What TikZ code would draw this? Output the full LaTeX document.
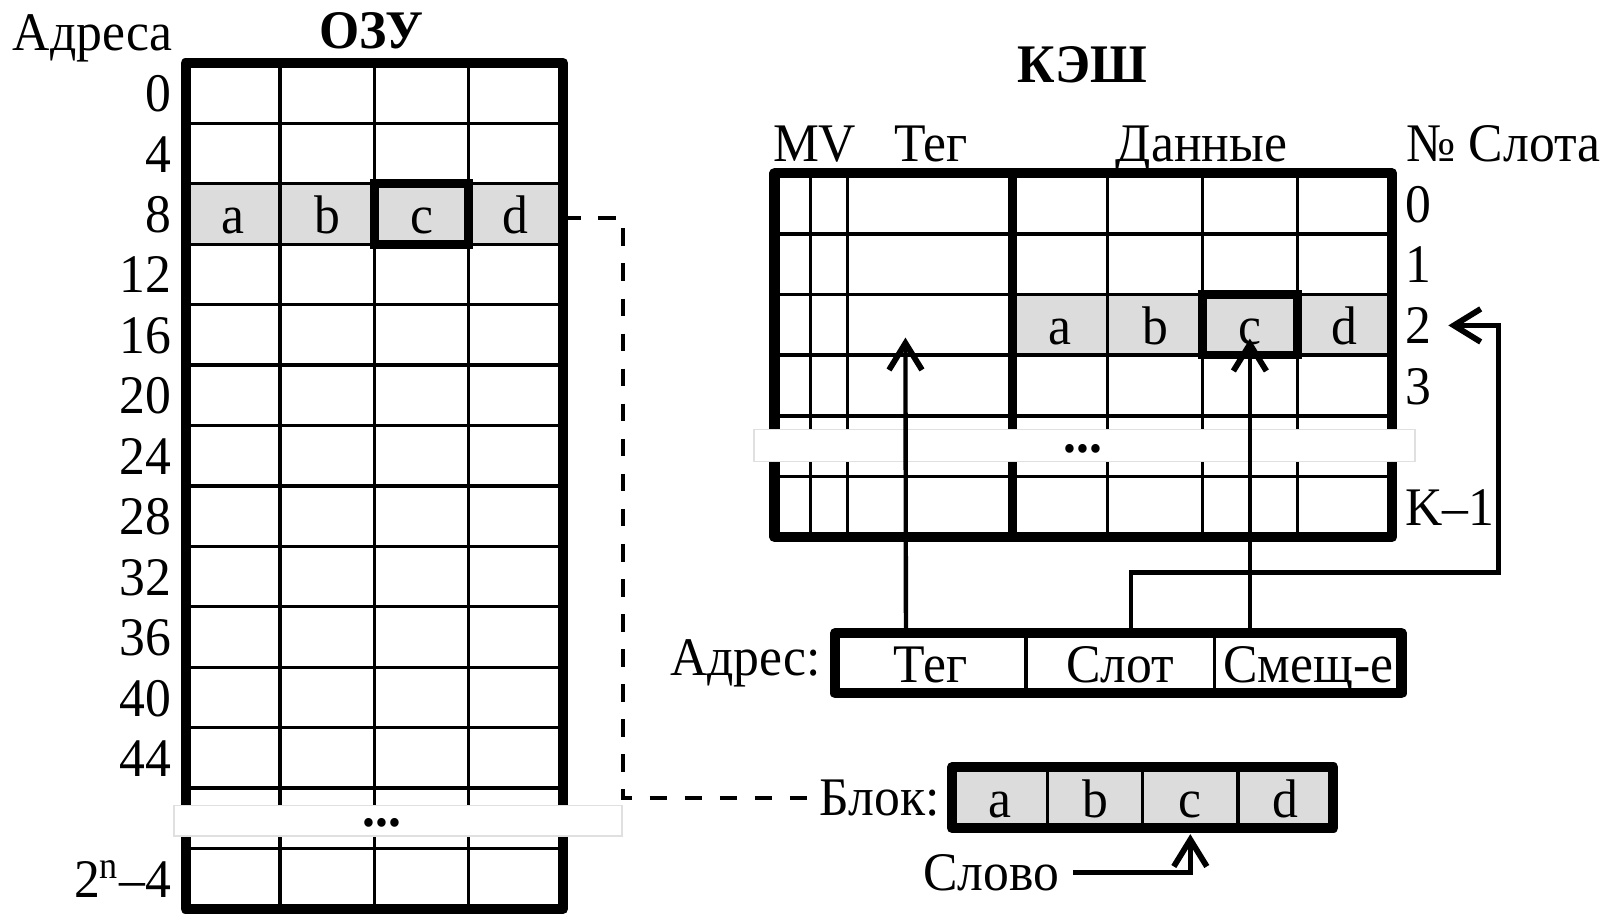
\documentclass[tikz,border=0pt]{standalone}
\usepackage{fontspec}
\setmainfont{Liberation Serif}[FakeStretch=0.95]
\usetikzlibrary{arrows.meta,positioning}
\definecolor{blockgray}{HTML}{DCDCDC}

\begin{document}
\begin{tikzpicture}[x=0.1mm, y=-0.1mm,
  txt/.style={font=\fontsize{15}{17}\selectfont, inner sep=0pt},
  ttl/.style={font=\fontsize{15}{17}\selectfont\bfseries, inner sep=0pt},
  cellbox/.style={draw, line width=0.9pt, minimum width=9.15mm, minimum height=5.87mm,
    inner sep=0pt, outer sep=0pt, text height=3.8mm, text depth=0pt,
    font=\fontsize{15}{17}\selectfont},
  hot/.style={cellbox, fill=blockgray},
  border/.style={line width=2.8pt, line join=round},
  arr/.style={-{Straight Barb[length=2.6mm,width=3.2mm,line width=1.6pt]}, line width=1.2pt},
  dashline/.style={line width=1.2pt, dash pattern=on 1.7mm off 1.7mm},
  gapband/.style={fill=white, draw=black!12, line width=0.5pt, inner sep=0pt},
]
  \useasboundingbox (0,0) rectangle (1568,887);

  % ОЗУ
  \node[txt] (addrhead) at (90,37) {Адреса};
  \node[ttl] (ramhead) at (360,30) {ОЗУ};
  \foreach \r in {0,1,3,4,...,13}
    \foreach \c in {1,...,4}
      \node[cellbox] (ram-\r-\c) at ({180+91.5*(\c-0.5)},{61+58.6*(\r+0.5)}) {};
  \foreach \c/\w in {1/a,2/b,3/c,4/d}
    \node[hot] (ram-2-\c) at ({180+91.5*(\c-0.5)},{61+58.6*2.5}) {\w};
  \draw[line width=2.4pt] (ram-2-3.north west) rectangle (ram-2-3.south east);
  \draw[border] (ram-0-1.north west) rectangle (ram-13-4.south east);
  \foreach \r [evaluate=\r as \a using int(4*\r)] in {0,...,11}
    \node[txt, anchor=base east] (ramaddr-\r) at ([xshift=-1.3mm, yshift=-1.8mm]ram-\r-1.west) {\a};
  \node[txt, anchor=base east] (ramaddr-13) at ([xshift=-1.3mm, yshift=-1.8mm]ram-13-1.west) {2\textsuperscript{n}--4};

  % КЭШ
  \node[ttl] (cachehead) at (1050,63) {КЭШ};
  \foreach \r in {0,...,5} {
    \node[cellbox, minimum width=3.5mm] (mv-\r-1) at (768.5,{168+58.8*(\r+0.5)}) {};
    \node[cellbox, minimum width=3.6mm] (mv-\r-2) at (804,{168+58.8*(\r+0.5)}) {};
    \node[cellbox, minimum width=16mm] (tag-\r) at (902,{168+58.8*(\r+0.5)}) {};
  }
  \foreach \r in {0,1,3,4,5}
    \foreach \c in {1,...,4}
      \node[cellbox, minimum width=9.2mm] (dat-\r-\c) at ({982+92*(\c-0.5)},{168+58.8*(\r+0.5)}) {};
  \foreach \c/\w in {1/a,2/b,3/c,4/d}
    \node[hot, minimum width=9.2mm] (dat-2-\c) at ({982+92*(\c-0.5)},{168+58.8*2.5}) {\w};
  \draw[line width=2.4pt] (dat-2-3.north west) rectangle (dat-2-3.south east);
  \draw[border] (mv-0-1.north west) rectangle (dat-5-4.south east);
  \draw[line width=2.4pt] (tag-0.north east) -- (tag-5.south east);

  \node[txt, anchor=base] (mvhead) at (790,157) {MV};
  \node[txt, anchor=base] (taghead) at (903,157) {Тег};
  \node[txt, anchor=base] (dathead) at (1165,157) {Данные};
  \node[txt, anchor=base] (slothead) at (1458,157) {№ Слота};
  \foreach \r/\s in {0/0,1/1,2/2,3/3,5/K--1}
    \node[txt, anchor=base west] (slot-\r) at ([xshift=1.2mm, yshift=-1.8mm]dat-\r-4.east) {\s};

  \node[gapband, minimum width=64.1mm, minimum height=3.1mm] (cachegap) at (1052,432) {};
  \node[txt] (cachedots) at (1050,435) {\textbf{...}};

  % адрес
  \node[cellbox, minimum width=18.5mm] (addr-tag) at (902.5,643) {Тег};
  \node[cellbox, minimum width=18.3mm, right=0pt of addr-tag] (addr-slot) {Слот};
  \node[cellbox, minimum width=18.1mm, right=0pt of addr-slot] (addr-off) {Смещ-е};
  \draw[border] (addr-tag.north west) rectangle (addr-off.south east);
  \node[txt, anchor=east] (addrlbl) at ([xshift=-1.3mm]addr-tag.west) {Адрес:};

  \draw[arr] ([xshift=-2.4mm]addr-tag.north) -- ([xshift=-2.4mm, yshift=1.7mm]tag-2.south);
  \draw[arr] (addr-off.north -| dat-2-3.south) -- ([yshift=1.6mm]dat-2-3.south);
  \coordinate (slotbend) at (1453,555);
  \draw[arr, shorten >=1.6mm] ([xshift=1mm]addr-slot.north) |- (slotbend) |- (slot-2.east);

  % блок
  \foreach \c/\w in {1/a,2/b,3/c,4/d}
    \node[hot, minimum width=9.25mm] (blk-\c) at ({923+92.5*(\c-0.5)},773.5) {\w};
  \draw[border] (blk-1.north west) rectangle (blk-4.south east);
  \node[txt, anchor=east] (blocklbl) at ([xshift=-1.1mm]blk-1.west) {Блок:};
  \node[txt] (wordlbl) at (961,846) {Слово};
  \draw[arr, shorten >=0.6mm] ([xshift=1.3mm]wordlbl.east) -| (blk-3.south);

  \draw[dashline] ([yshift=-0.4mm]ram-2-4.east) -- ++(58,0) |- (blocklbl.west);
  \node[gapband, minimum width=43.5mm, minimum height=3mm] (ramgap) at (386,796) {};
  \node[txt] (ramdots) at (370,798) {\textbf{...}};
\end{tikzpicture}
\end{document}
